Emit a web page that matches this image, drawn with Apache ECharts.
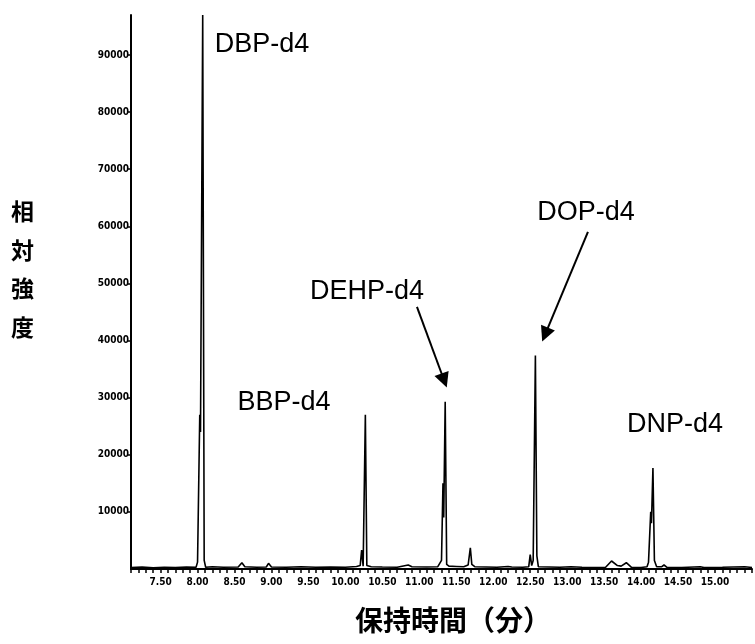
<!DOCTYPE html>
<html>
<head>
<meta charset="utf-8">
<script src="https://cdn.jsdelivr.net/npm/echarts@6/dist/echarts.min.js"></script>
<style>
  html, body { margin: 0; padding: 0; background: #fff; }
  #main { width: 755px; height: 644px; }
</style>
</head>
<body>
<div id="main"></div>
<script>
// retention time (min) and intensity
const rtMin = [
  7.10, 7.25, 7.40, 7.55, 7.70, 7.85, 7.98, 8.00, 8.03, 8.04, 8.07, 8.09, 8.11,
  8.20, 8.35, 8.55, 8.60, 8.64, 8.80, 8.93, 8.96, 9.00, 9.20, 9.40, 9.60, 9.80,
  10.00, 10.15, 10.20, 10.22, 10.24, 10.25, 10.27, 10.29, 10.35, 10.50, 10.70, 10.85, 10.90,
  11.10, 11.25, 11.30, 11.32, 11.33, 11.35, 11.37, 11.40, 11.50, 11.60, 11.66, 11.69, 11.71, 11.75,
  11.90, 12.05, 12.20, 12.25, 12.40, 12.48, 12.50, 12.52, 12.54, 12.57, 12.59, 12.61,
  12.75, 12.90, 13.05, 13.20, 13.40, 13.52, 13.60, 13.68, 13.73, 13.80, 13.87,
  14.00, 14.08, 14.10, 14.13, 14.14, 14.16, 14.18, 14.21, 14.28, 14.31, 14.35,
  14.55, 14.80, 14.85, 15.10, 15.40, 15.50
];
const intensity = [
  250, 350, 200, 300, 250, 350, 300, 1200, 27000, 24000, 97000, 1500, 300,
  400, 300, 350, 1100, 400, 300, 350, 1000, 350, 300, 400, 300, 350,
  300, 450, 600, 3300, 500, 800, 27000, 600, 400, 350, 300, 700, 400,
  350, 400, 1500, 15000, 9000, 29300, 800, 500, 450, 400, 700, 3700, 800, 400,
  350, 300, 450, 350, 300, 400, 2500, 600, 1500, 37400, 2300, 400,
  350, 300, 400, 300, 250, 300, 1400, 600, 500, 1100, 300,
  250, 400, 1200, 10000, 8000, 17700, 1500, 400, 400, 700, 300,
  250, 400, 250, 300, 400, 250
];

const yTicks = [10000, 20000, 30000, 40000, 50000, 60000, 70000, 80000, 90000];
const xTicks = [7.5, 8.0, 8.5, 9.0, 9.5, 10.0, 10.5, 11.0, 11.5, 12.0, 12.5, 13.0, 13.5, 14.0, 14.5, 15.0];

// peak names and where their labels sit [rt, intensity]
const peakNames = ["DBP-d4", "BBP-d4", "DEHP-d4", "DOP-d4", "DNP-d4"];
const peakLabelAt = [[8.872, 91750], [9.17, 29070], [10.292, 48500], [13.254, 62340], [14.458, 25210]];
// arrows: [from, to] in [rt, intensity]
const arrows = [
  [[10.968, 45880], [11.336, 33000]],
  [[13.281, 59010], [12.701, 41040]]
];

const myChart = echarts.init(document.getElementById("main"), null, { renderer: "canvas" });

const tickFont = {
  fontFamily: "DejaVu Sans Condensed",
  fontWeight: "bold",
  fontSize: 10,
  color: "#000"
};

const option = {
  animation: false,
  backgroundColor: "#fff",
  grid: { left: 131, right: 3, top: 15, bottom: 75 },
  xAxis: {
    type: "value",
    min: 7.1,
    max: 15.5,
    interval: 0.1,
    axisLine: { lineStyle: { color: "#000", width: 2 } },
    axisTick: { show: true, length: 4, lineStyle: { color: "#000", width: 1.5 } },
    axisLabel: Object.assign({
      customValues: xTicks,
      margin: 8,
      formatter: (v) => v.toFixed(2)
    }, tickFont),
    splitLine: { show: false }
  },
  yAxis: {
    type: "value",
    min: 0,
    max: 97000,
    axisLine: { show: true, lineStyle: { color: "#000", width: 2 } },
    axisTick: { show: true, length: 3, customValues: yTicks, lineStyle: { color: "#000", width: 1.5 } },
    axisLabel: Object.assign({
      customValues: yTicks,
      margin: 2,
      formatter: (v) => String(v)
    }, tickFont),
    splitLine: { show: false }
  },
  series: [
    {
      type: "line",
      data: rtMin.map((t, i) => [t, intensity[i]]),
      showSymbol: false,
      lineStyle: { color: "#000", width: 1.6 },
      markPoint: {
        silent: true,
        symbol: "circle",
        symbolSize: 1,
        itemStyle: { color: "transparent" },
        label: {
          show: true,
          position: "inside",
          color: "#000",
          fontFamily: "Liberation Sans",
          fontSize: 27,
          formatter: (p) => p.name
        },
        data: peakNames.map((n, i) => ({ name: n, coord: peakLabelAt[i] }))
      },
      markLine: {
        silent: true,
        symbol: ["none", "triangle"],
        symbolSize: 15,
        label: { show: false },
        lineStyle: { color: "#000", width: 2, type: "solid" },
        data: arrows.map((a) => [{ coord: a[0] }, { coord: a[1] }])
      }
    }
  ],
  graphic: [
    {
      type: "text",
      left: 11,
      top: 192,
      style: {
        text: "相\n対\n強\n度",
        font: "bold 23px 'Noto Sans CJK JP'",
        lineHeight: 38.7,
        fill: "#000"
      }
    },
    {
      type: "text",
      left: 355,
      top: 606,
      style: {
        text: "保持時間（分）",
        font: "bold 28px 'Noto Sans CJK JP'",
        fill: "#000"
      }
    }
  ]
};

myChart.setOption(option);
</script>
</body>
</html>
